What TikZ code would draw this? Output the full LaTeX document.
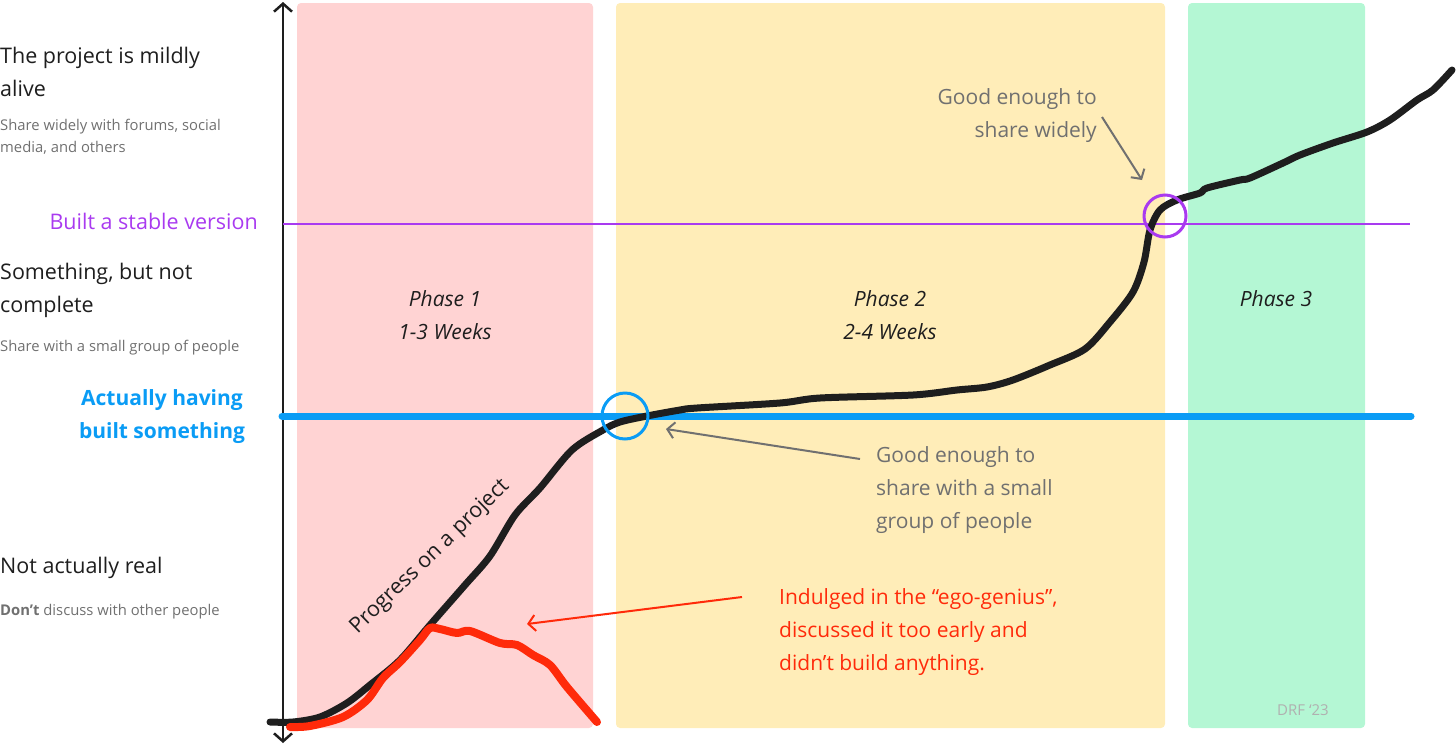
\documentclass[tikz,border=0pt]{standalone}
\usepackage{fontspec}
\setmainfont{Open Sans}
\usepackage{xcolor}
\usetikzlibrary{arrows.meta,positioning}
\definecolor{phaseone}{HTML}{FFD3D3}
\definecolor{phasetwo}{HTML}{FFEDB8}
\definecolor{phasethree}{HTML}{B4F7D4}
\definecolor{stable}{HTML}{A93AF0}
\definecolor{built}{HTML}{0A9CF5}
\definecolor{ego}{HTML}{FF2A0A}
\definecolor{ink}{HTML}{1E1E1E}
\definecolor{note}{HTML}{707070}
\definecolor{faint}{HTML}{B0B0B0}

\begin{document}
\begin{tikzpicture}[x=1pt,y=-1pt,>={Straight Barb[length=8pt,width=18pt]},
    big/.style={font=\fontsize{21.5}{33}\selectfont,text=ink,inner sep=0pt,align=left},
    sub/.style={font=\fontsize{14.8}{22}\selectfont,text=note,inner sep=0pt,align=left},
    phase/.style={font=\fontsize{21}{33}\selectfont\itshape,text=ink,inner sep=0pt,align=center},
    remark/.style={font=\fontsize{21}{33}\selectfont,text=note,inner sep=0pt},
    ring/.style={circle,draw,line width=3pt,inner sep=0pt}]
    \useasboundingbox (0,0) rectangle (1456,745);
    % phases
    \fill[phaseone,rounded corners=4pt] (297,3) rectangle (593,728);
    \fill[phasetwo,rounded corners=4pt] (616,3) rectangle (1165,728);
    \fill[phasethree,rounded corners=4pt] (1188,3) rectangle (1365,728);
    \node[phase] (p1) at (445,315) {Phase 1\\1-3 Weeks};
    \node[phase] (p2) at (890,315) {Phase 2\\2-4 Weeks};
    \node[phase] (p3) at (1276,299) {Phase 3};
    % axis and levels
    \draw[<->,line width=2.5pt,ink] (283,743) -- (283,2);
    \draw[stable,line width=2pt] (283,224) -- (1410,224);
    \draw[built,line width=7pt,line cap=round] (282,416) -- (1411,416);
    % progress curves
    \draw[ink,line width=7pt,line cap=round,line join=round] plot[smooth,tension=0.5] coordinates {
        (270,722) (293,722) (320,717) (347,703) (370,685) (400,660) (430,625)
        (465,585) (490,556) (515,515) (540,488) (572,450) (603,430) (620,422)
        (647,416) (680,410) (697,408) (780,403) (820,398) (913,395) (957,390)
        (987,387) (1013,380) (1050,365) (1085,349) (1110,322) (1133,292)
        (1144,262) (1150,230) (1160,210) (1177,200) (1200,193) (1207,188)
        (1240,180) (1250,178) (1283,163) (1300,155) (1333,143) (1367,132)
        (1390,120) (1417,100) (1433,90) (1452,70)};
    \draw[ego,line width=8pt,line cap=round,line join=round] plot[smooth,tension=0.5] coordinates {
        (290,727) (310,726) (343,717) (367,700) (383,678) (400,662) (420,640)
        (430,628) (440,629) (457,633) (470,631) (500,643) (517,645) (533,655)
        (550,665) (567,687) (597,722)};
    \node[font=\fontsize{21.5}{24}\selectfont,text=ink,rotate=44] (curve) at (430,557) {Progress on a project};
    % crossings
    \node[ring,draw=built,minimum size=46pt] (small) at (625,416) {};
    \node[ring,draw=stable,minimum size=42pt] (wide) at (1165,216) {};
    % notes
    \node[remark,align=right,anchor=east] (widenote) at (1097,116) {Good enough to\\share widely};
    \node[remark,align=left,anchor=west] (smallnote) at (876,490) {Good enough to\\share with a small\\group of people};
    \node[remark,text=ego,align=left,anchor=west] (egonote) at (779,632) {Indulged in the “ego-genius”,\\discussed it too early and\\didn’t build anything.};
    \coordinate (widefrom) at (1102,117);
    \coordinate (wideto) at (1142,180);
    \coordinate (smallfrom) at (860,459);
    \coordinate (smallto) at (666,429);
    \coordinate (egofrom) at (742,597);
    \coordinate (egoto) at (527,624);
    \draw[->,note,line width=2pt,>={Straight Barb[length=7pt,width=16pt]}] (widefrom) -- (wideto);
    \draw[->,note,line width=2pt,>={Straight Barb[length=7pt,width=16pt]}] (smallfrom) -- (smallto);
    \draw[->,ego,line width=2pt,>={Straight Barb[length=7pt,width=16pt]}] (egofrom) -- (egoto);
    % level labels
    \node[big,anchor=west] (alive) at (0,71.5) {The project is mildly\\alive};
    \node[sub,anchor=west] (alivesub) at (0,137) {Share widely with forums, social\\media, and others};
    \node[big,text=stable,anchor=east] (stablelabel) at (258,221) {Built a stable version};
    \node[big,anchor=west] (partial) at (0,290) {Something, but not\\complete};
    \node[sub,anchor=west] (partialsub) at (0,348) {Share with a small group of people};
    \node[big,text=built,font=\fontsize{21}{33}\selectfont\bfseries,align=center] (builtlabel) at (162,417) {Actually having\\built something};
    \node[big,anchor=west] (unreal) at (0,568) {Not actually real};
    \node[sub,anchor=west] (unrealsub) at (0,612) {\textbf{Don’t} discuss with other people};
    \node[font=\fontsize{15}{18}\selectfont,text=faint] (sign) at (1303,710) {DRF ‘23};
\end{tikzpicture}
\end{document}
